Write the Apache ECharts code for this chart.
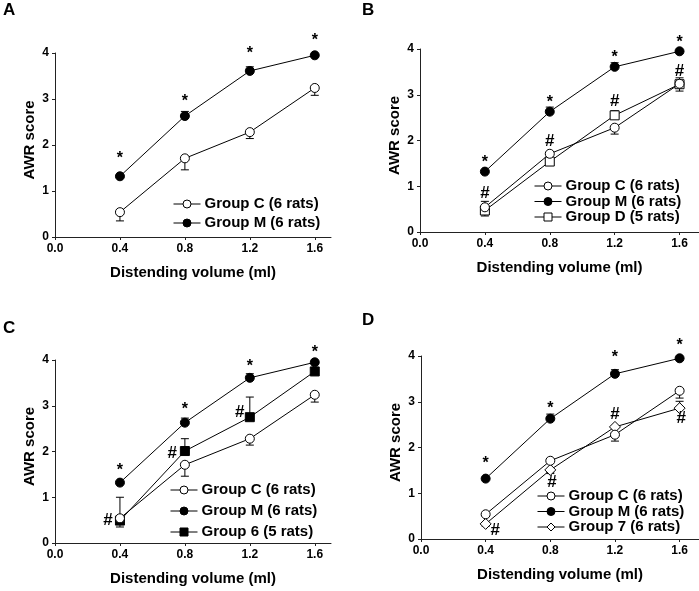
<!DOCTYPE html>
<html>
<head>
<meta charset="utf-8">
<script src="https://cdn.jsdelivr.net/npm/echarts@6/dist/echarts.min.js"></script>
<style>
  html, body { margin: 0; background: #fff; }
  #main { width: 699px; height: 591px; }
</style>
</head>
<body>
<div id="main"></div>
<script>
// distending volumes (ml)
const volumes = [0.4, 0.8, 1.2, 1.6]
const xTicks = [0, 0.4, 0.8, 1.2, 1.6]

// mean AWR scores, error = signed SEM (negative = drawn below)
const groupC = [0.54, 1.71, 2.28, 3.24]
const groupCErr = [-0.19, -0.25, -0.14, -0.16]
const groupM = [1.32, 2.63, 3.61, 3.95]
const groupMErr = [0, 0.1, 0.09, 0]
const groupD = [0.47, 1.54, 2.55, 3.23]
const groupDErr = [0.2, 0, 0.1, 0.14]
const group6 = [0.49, 2.01, 2.75, 3.75]
const group6Err = [0.51, 0.27, 0.44, 0]
const group7 = [0.33, 1.51, 2.45, 2.86]
const group7Err = [-0.05, -0.08, 0, 0.15]

// significance marks [x, y]
const starsA = [[0.4, 1.77], [0.8, 3.01], [1.2, 4.05], [1.6, 4.33]]
const starsB = [[0.4, 1.59], [0.8, 2.9], [1.2, 3.87], [1.6, 4.21]]
const hashB = [[0.4, 0.85], [0.8, 1.98], [1.2, 2.85], [1.6, 3.52]]
const starsC = [[0.4, 1.64], [0.8, 2.98], [1.2, 3.93], [1.6, 4.22]]
const hashC = [[0.326, 0.49], [0.722, 1.96], [1.138, 2.86]]
const starsD = [[0.4, 1.71], [0.8, 2.91], [1.2, 4.02], [1.6, 4.29]]
const hashD = [[0.46, 0.2], [0.81, 1.24], [1.2, 2.73], [1.61, 2.64]]

const FONT = 'Liberation Sans, Arial, sans-serif'

const styles = {
  'Group C (6 rats)': { symbol: 'circle', fill: '#fff' },
  'Group M (6 rats)': { symbol: 'circle', fill: '#000' },
  'Group D (5 rats)': { symbol: 'rect', fill: '#fff' },
  'Group 6 (5 rats)': { symbol: 'rect', fill: '#000' },
  'Group 7 (6 rats)': { symbol: 'diamond', fill: '#fff' }
}

const panels = [
  { letter: 'A', grid: { left: 55, right: 368, top: 53, bottom: 354 }, xMax: 1.7,
    groups: [['Group C (6 rats)', groupC, groupCErr], ['Group M (6 rats)', groupM, groupMErr]],
    stars: starsA, hashes: [], legend: { left: 173, top: 196.5, itemGap: 4 }, letterPos: [3, 2] },
  { letter: 'B', grid: { left: 420, right: 0, top: 49, bottom: 359 }, xMax: 1.72,
    groups: [['Group C (6 rats)', groupC, groupCErr], ['Group M (6 rats)', groupM, groupMErr], ['Group D (5 rats)', groupD, groupDErr]],
    stars: starsB, hashes: hashB, legend: { left: 534, top: 178.5, itemGap: 0.5 }, letterPos: [362, 2] },
  { letter: 'C', grid: { left: 55, right: 368, top: 360, bottom: 48 }, xMax: 1.7,
    groups: [['Group C (6 rats)', groupC, groupCErr], ['Group M (6 rats)', groupM, groupMErr], ['Group 6 (5 rats)', group6, group6Err]],
    stars: starsC, hashes: hashC, legend: { left: 170, top: 482.5, itemGap: 6 }, letterPos: [3, 320] },
  { letter: 'D', grid: { left: 421, right: 0, top: 356, bottom: 52 }, xMax: 1.72,
    groups: [['Group C (6 rats)', groupC, groupCErr], ['Group M (6 rats)', groupM, groupMErr], ['Group 7 (6 rats)', group7, group7Err]],
    stars: starsD, hashes: hashD, legend: { left: 537, top: 488.5, itemGap: 0.5 }, letterPos: [362, 312] }
]

const errorBars = (params, api) => {
  const x = api.value(0)
  const y = api.value(1)
  const e = api.value(2)
  if (!e) return
  const p0 = api.coord([x, y])
  const p1 = api.coord([x, y + e])
  const st = { stroke: '#000', lineWidth: 1 }
  return {
    type: 'group',
    children: [
      { type: 'line', shape: { x1: p0[0], y1: p0[1], x2: p1[0], y2: p1[1] }, style: st },
      { type: 'line', shape: { x1: p1[0] - 4, y1: p1[1], x2: p1[0] + 4, y2: p1[1] }, style: st }
    ]
  }
}

const markText = (mark, size, dy) => (params, api) => {
  const p = api.coord([api.value(0), api.value(1)])
  return {
    type: 'text',
    x: p[0],
    y: p[1] + dy,
    style: { text: mark, font: 'bold ' + size + 'px ' + FONT, fill: '#000', align: 'center', verticalAlign: 'middle' }
  }
}

const grids = [], xAxes = [], yAxes = [], legends = [], series = [], graphics = []

panels.forEach((p, i) => {
  grids.push(p.grid)
  xAxes.push({
    type: 'value', gridIndex: i, min: 0, max: p.xMax,
    name: 'Distending volume (ml)', nameLocation: 'middle', nameGap: 28,
    nameTextStyle: { fontFamily: FONT, fontWeight: 'bold', fontSize: 15, color: '#000' },
    axisLine: { show: true, onZero: false, lineStyle: { color: '#222', width: 1 } },
    axisTick: { show: true, length: 3, customValues: xTicks, lineStyle: { color: '#222' } },
    axisLabel: { customValues: xTicks, formatter: v => v.toFixed(1), fontFamily: FONT, fontWeight: 'bold', fontSize: 12, color: '#000', margin: 6 },
    splitLine: { show: false }
  })
  yAxes.push({
    type: 'value', gridIndex: i, min: 0, max: 4, interval: 1,
    name: 'AWR score', nameLocation: 'middle', nameGap: 18,
    nameTextStyle: { fontFamily: FONT, fontWeight: 'bold', fontSize: 15, color: '#000', padding: [0, 0, 0, 10] },
    axisLine: { show: true, onZero: false, lineStyle: { color: '#222', width: 1 } },
    axisTick: { show: true, length: 3, lineStyle: { color: '#222' } },
    axisLabel: { fontFamily: FONT, fontWeight: 'bold', fontSize: 12, color: '#000', margin: 6 },
    splitLine: { show: false }
  })

  const names = p.groups.map(g => g[0])
  legends.push({
    orient: 'vertical', left: p.legend.left, top: p.legend.top, itemGap: p.legend.itemGap,
    padding: 0, itemWidth: 27, itemHeight: 10, selectedMode: false,
    lineStyle: { width: 1, color: '#000' },
    itemStyle: { borderWidth: 1, borderColor: '#000' },
    data: names,
    textStyle: { fontFamily: FONT, fontWeight: 'bold', fontSize: 15, color: '#000', padding: [0, 0, 0, -1] }
  })

  p.groups.forEach(([name, vals, errs]) => {
    series.push({
      type: 'custom', name: name + ' err', xAxisIndex: i, yAxisIndex: i, z: 1,
      renderItem: errorBars,
      data: volumes.map((v, k) => [v, vals[k], errs[k]])
    })
  })
  // open groups drawn over filled ones, as in the figure
  p.groups.slice().reverse().forEach(([name, vals]) => {
    const s = styles[name]
    series.push({
      type: 'line', name: name, xAxisIndex: i, yAxisIndex: i, z: 3,
      symbol: s.symbol, symbolSize: s.symbol === 'diamond' ? 11 : 9,
      showAllSymbol: true, animation: false,
      lineStyle: { color: '#000', width: 1 },
      itemStyle: { color: s.fill, borderColor: '#000', borderWidth: 1 },
      emphasis: { disabled: true },
      data: volumes.map((v, k) => [v, vals[k]])
    })
  })
  series.push({
    type: 'custom', name: 'stars ' + p.letter, xAxisIndex: i, yAxisIndex: i, z: 4,
    renderItem: markText('*', 16, 3), data: p.stars
  })
  if (p.hashes.length) {
    series.push({
      type: 'custom', name: 'hash ' + p.letter, xAxisIndex: i, yAxisIndex: i, z: 4,
      renderItem: markText('#', 17, 0), data: p.hashes
    })
  }
  graphics.push({
    type: 'text', left: p.letterPos[0], top: p.letterPos[1],
    style: { text: p.letter, font: 'bold 17px ' + FONT, fill: '#000' }
  })
})

const option = {
  animation: false,
  backgroundColor: '#fff',
  grid: grids,
  xAxis: xAxes,
  yAxis: yAxes,
  legend: legends,
  series: series,
  graphic: graphics
}

const myChart = echarts.init(document.getElementById('main'))
option && myChart.setOption(option)
</script>
</body>
</html>
